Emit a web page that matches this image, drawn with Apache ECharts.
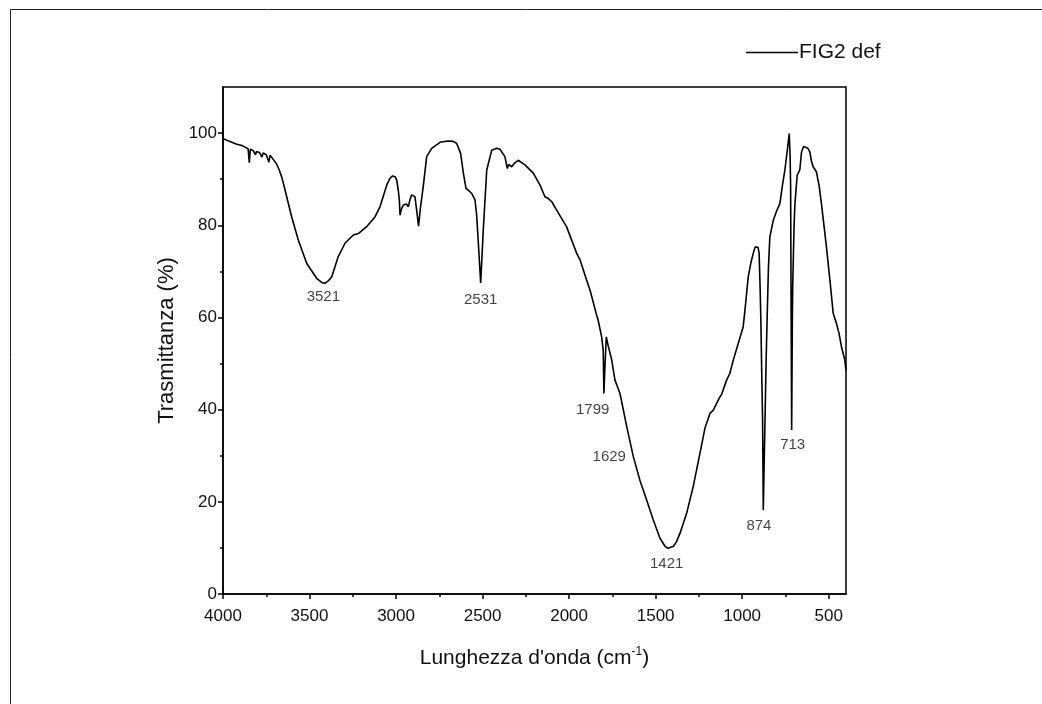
<!DOCTYPE html>
<html>
<head>
<meta charset="utf-8">
<script src="https://cdn.jsdelivr.net/npm/echarts@6/dist/echarts.min.js"></script>
<style>
html,body{margin:0;padding:0;background:#fff;}
#chart{width:1042px;height:704px;}
</style>
</head>
<body>
<div id="chart"></div>
<script>
// ---- Data ----
const seriesName = 'FIG2 def';
const wavenumber = [4000,3960,3920,3890,3870,3855,3848,3842,3825,3812,3806,3790,3775,3768,3750,3735,3728,3710,3690,3675,3661,3645,3632,3603,3565,3516,3459,3430,3411,3390,3372,3334,3295,3247,3218,3170,3122,3093,3054,3035,3020,3005,2996,2987,2981,2977,2968,2958,2940,2929,2920,2910,2900,2891,2880,2870,2860,2843,2823,2794,2760,2746,2700,2670,2650,2627,2611,2596,2580,2563,2544,2535,2529,2518,2511,2505,2496,2476,2447,2419,2400,2390,2371,2357,2350,2342,2332,2315,2294,2255,2207,2168,2140,2120,2100,2072,2015,1956,1937,1899,1879,1841,1832,1812,1803,1799,1793,1785,1775,1754,1735,1706,1667,1629,1591,1552,1514,1475,1445,1427,1410,1398,1380,1359,1321,1283,1244,1215,1196,1186,1167,1128,1119,1090,1071,1051,1013,994,980,965,950,936,925,917,908,902,896,892,886,882,878,873,868,862,855,848,840,820,800,782,768,753,740,728,723,720,717,714,710,708,700,695,682,667,657,645,637,620,609,600,590,571,555,542,513,490,474,455,440,426,407,400];
const transmittance = [98.8,98.2,97.6,97.3,96.9,96.6,93.6,96.5,96.2,95.3,96.0,95.8,94.8,95.7,95.3,93.7,95.2,94.3,93.3,92.0,90.5,88.2,86.2,81.8,76.8,71.7,68.5,67.6,67.4,68.0,68.8,73.2,76.1,77.9,78.2,79.7,81.8,84.0,88.7,90.2,90.7,90.5,89.8,87.5,85.5,82.2,83.6,84.4,84.6,84.0,85.5,86.6,86.7,86.2,83.0,79.8,83.5,88.4,94.9,96.7,97.6,98.0,98.3,98.2,97.8,95.6,91.3,88.0,87.5,86.9,85.5,82.5,79.0,72.0,67.5,72.0,79.0,92.0,96.3,96.7,96.5,96.3,94.9,92.3,93.2,93.4,92.7,93.5,94.1,93.1,91.3,88.7,86.2,85.8,85.1,83.3,79.7,73.9,72.5,68.1,65.9,60.5,59.4,55.8,52.9,43.5,49.3,55.8,54.0,50.8,46.4,43.5,36.3,29.8,24.7,20.4,16.1,12.1,10.3,9.9,10.2,10.3,11.3,13.2,17.5,23.3,30.5,36.0,38.1,39.2,39.9,42.8,43.3,46.4,47.9,50.8,55.6,58.0,63.0,68.8,71.8,73.9,75.3,75.7,75.2,73.9,66.0,59.4,46.0,37.7,18.2,28.0,37.7,50.0,60.9,71.0,77.5,81.1,83.2,84.7,88.5,92.0,96.0,99.9,95.0,88.4,60.0,35.6,60.0,66.7,80.0,84.7,90.9,92.0,95.9,97.1,97.2,96.7,95.9,94.0,92.7,91.6,88.5,84.7,75.3,67.0,60.9,58.7,56.5,53.6,50.8,48.5];

// peak annotations (text, position in data units)
const peakLabels = ['3521','2531','1799','1629','1421','874','713'];
const peakLabelX = [3420,2511,1864,1768,1436,903,708];
const peakLabelY = [64.5,63.8,39.9,29.7,6.5,14.8,32.3];

// axis ticks
const xMajorTicks = [4000,3500,3000,2500,2000,1500,1000,500];
const xMinorTicks = [3750,3250,2750,2250,1750,1250,750];
const yMajorTicks = [0,20,40,60,80,100];
const yMinorTicks = [10,30,50,70,90];
const xMin = 400, xMax = 4000, yMin = 0, yMax = 110;

const xTitle = "Lunghezza d'onda (cm{sup|-1})";
const yTitle = 'Trasmittanza (%)';

// ---- Chart ----
const FONT = '"Liberation Sans", Arial, sans-serif';
const chart = echarts.init(document.getElementById('chart'));

const lineData = wavenumber.map((w, i) => [w, transmittance[i]]);
const labelData = peakLabels.map((t, i) => [peakLabelX[i], peakLabelY[i], t]);

const axisLineStyle = {color: '#000', width: 1.5};

chart.setOption({
  animation: false,
  backgroundColor: '#ffffff',
  textStyle: {fontFamily: FONT},
  graphic: [
    {type: 'polyline', silent: true, shape: {points: [[10.5, 704], [10.5, 9.5], [1042, 9.5]]},
     style: {stroke: '#222', lineWidth: 1, fill: null}}
  ],
  legend: {
    data: [{name: seriesName, icon: 'rect'}],
    left: 741, top: 37,
    itemWidth: 52, itemHeight: 1.6, itemGap: 10,
    itemStyle: {color: '#000'},
    textStyle: {fontSize: 21, color: '#111', fontFamily: FONT, padding: [0,0,0,-4]}
  },
  grid: {left: 223, right: 196, top: 87, bottom: 110, show: true,
         borderColor: '#000', borderWidth: 1.5, backgroundColor: 'transparent'},
  xAxis: [
    {type: 'value', inverse: true, min: xMin, max: xMax,
     axisLine: {show: true, lineStyle: axisLineStyle},
     axisTick: {show: true, length: 5, lineStyle: axisLineStyle, customValues: xMajorTicks},
     axisLabel: {show: true, fontSize: 17, color: '#111', margin: 14, customValues: xMajorTicks,
                 fontFamily: FONT, formatter: v => String(v)},
     splitLine: {show: false},
     name: xTitle, nameLocation: 'middle', nameGap: 52,
     nameTextStyle: {fontSize: 21, color: '#111', fontFamily: FONT,
       rich: {sup: {fontSize: 12, color: '#111', padding: [0, 0, 12, 0], fontFamily: FONT}}}
    },
    {type: 'value', inverse: true, min: xMin, max: xMax, position: 'bottom',
     axisLine: {show: false},
     axisTick: {show: true, length: 3, lineStyle: axisLineStyle, customValues: xMinorTicks},
     axisLabel: {show: false}, splitLine: {show: false}}
  ],
  yAxis: [
    {type: 'value', min: yMin, max: yMax,
     axisLine: {show: true, lineStyle: axisLineStyle},
     axisTick: {show: true, length: 5, lineStyle: axisLineStyle, customValues: yMajorTicks},
     axisLabel: {show: true, fontSize: 17, color: '#111', margin: 6, customValues: yMajorTicks,
                 fontFamily: FONT, formatter: v => String(v)},
     splitLine: {show: false},
     name: yTitle, nameLocation: 'middle', nameGap: 45, nameRotate: 90,
     nameTextStyle: {fontSize: 22, color: '#111', fontFamily: FONT}
    },
    {type: 'value', min: yMin, max: yMax, position: 'left',
     axisLine: {show: false},
     axisTick: {show: true, length: 3, lineStyle: axisLineStyle, customValues: yMinorTicks},
     axisLabel: {show: false}, splitLine: {show: false}}
  ],
  series: [
    {name: seriesName, type: 'line', data: lineData, xAxisIndex: 0, yAxisIndex: 0,
     symbol: 'none', showSymbol: false, smooth: false,
     lineStyle: {color: '#000', width: 1.6}, itemStyle: {color: '#000'}},
    {name: 'peaks', type: 'scatter', data: labelData, xAxisIndex: 0, yAxisIndex: 0,
     symbolSize: 1, itemStyle: {color: 'rgba(0,0,0,0)'}, silent: true,
     label: {show: true, position: 'inside', formatter: p => p.data[2],
             fontSize: 15, color: '#111', fontFamily: FONT}}
  ]
});
</script>
</body>
</html>
